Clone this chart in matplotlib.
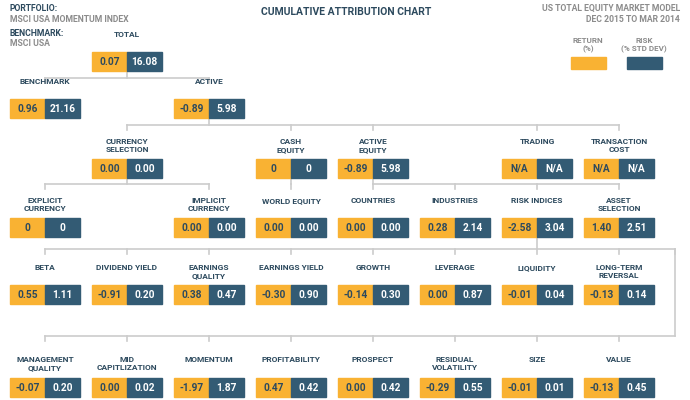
import matplotlib.pyplot as plt
from matplotlib.patches import Rectangle

plt.rcParams['font.family'] = ['Roboto', 'DejaVu Sans']

ORANGE = '#F9B233'
BLUE = '#335B74'
NAVY = '#2D4A5E'
GREY = '#8C8C8C'
LINE = '#CCCCCC'

# node data
labels = ['TOTAL', 'BENCHMARK', 'ACTIVE',
          'CURRENCY\nSELECTION', 'CASH\nEQUITY', 'ACTIVE\nEQUITY', 'TRADING', 'TRANSACTION\nCOST',
          'EXPLICIT\nCURRENCY', 'IMPLICIT\nCURRENCY', 'WORLD EQUITY', 'COUNTRIES', 'INDUSTRIES',
          'RISK INDICES', 'ASSET\nSELECTION',
          'BETA', 'DIVIDEND YIELD', 'EARNINGS\nQUALITY', 'EARNINGS YIELD', 'GROWTH', 'LEVERAGE',
          'LIQUIDITY', 'LONG-TERM\nREVERSAL',
          'MANAGEMENT\nQUALITY', 'MID\nCAPITLIZATION', 'MOMENTUM', 'PROFITABILITY', 'PROSPECT',
          'RESIDUAL\nVOLATILITY', 'SIZE', 'VALUE']
returns = ['0.07', '0.96', '-0.89',
           '0.00', '0', '-0.89', 'N/A', 'N/A',
           '0', '0.00', '0.00', '0.00', '0.28', '-2.58', '1.40',
           '0.55', '-0.91', '0.38', '-0.30', '-0.14', '0.00', '-0.01', '-0.13',
           '-0.07', '0.00', '-1.97', '0.47', '0.00', '-0.29', '-0.01', '-0.13']
risks = ['16.08', '21.16', '5.98',
         '0.00', '0', '5.98', 'N/A', 'N/A',
         '0', '0.00', '0.00', '0.00', '2.14', '3.04', '2.51',
         '1.11', '0.20', '0.47', '0.90', '0.30', '0.87', '0.04', '0.14',
         '0.20', '0.02', '1.87', '0.42', '0.42', '0.55', '0.01', '0.45']
cols = [1, 0, 2,
        1, 3, 4, 6, 7,
        0, 2, 3, 4, 5, 6, 7,
        0, 1, 2, 3, 4, 5, 6, 7,
        0, 1, 2, 3, 4, 5, 6, 7]
rows = [0, 1, 1] + [2] * 5 + [3] * 7 + [4] * 8 + [5] * 8

col_x = [45 + 82 * i for i in range(8)]
box_top = [52, 99, 159, 218, 285, 378]
box_h = 19
half = 35

fig = plt.figure(figsize=(6.9, 4.0), dpi=100)
ax = fig.add_axes([0, 0, 1, 1])
ax.set_xlim(0, 690)
ax.set_ylim(400, 0)
ax.axis('off')


def hline(x0, x1, y):
    ax.plot([x0, x1], [y, y], color=LINE, lw=1.2, zorder=1)


def vline(x, y0, y1):
    ax.plot([x, x], [y0, y1], color=LINE, lw=1.2, zorder=1)


def branch(px, pbottom, ybar, children, tick=5):
    vline(px, pbottom, ybar)
    hline(min(children + [px]), max(children + [px]), ybar)
    for c in children:
        vline(c, ybar, ybar + tick)


# connectors
branch(col_x[1], box_top[0] + box_h, 78, [col_x[0], col_x[2]])
branch(col_x[2], box_top[1] + box_h, 125, [col_x[i] for i in (1, 3, 4, 6, 7)])
branch(col_x[1], box_top[2] + box_h, 184, [col_x[0], col_x[2]])
branch(col_x[3], box_top[2] + box_h, 184, [col_x[3]])
branch(col_x[4], box_top[2] + box_h, 184, [col_x[i] for i in (4, 5, 6, 7)])
branch(col_x[6], box_top[3] + box_h, 249, col_x + [675])
vline(675, 249, 336)
hline(col_x[0], 675, 336)
for x in col_x:
    vline(x, 336, 341)

# boxes and labels
for lab, r, k, c, rw in zip(labels, returns, risks, cols, rows):
    x = col_x[c]
    y = box_top[rw]
    ax.add_patch(Rectangle((x - half, y), half, box_h, color=ORANGE, zorder=2))
    ax.add_patch(Rectangle((x, y), half, box_h, color=BLUE, zorder=2))
    ax.text(x - half / 2, y + box_h / 2 + 0.5, r, ha='center', va='center',
            fontsize=7.3, fontweight='bold', color=NAVY, zorder=3)
    ax.text(x + half / 2, y + box_h / 2 + 0.5, k, ha='center', va='center',
            fontsize=7.3, fontweight='bold', color='white', zorder=3)
    if rw == 4:
        ly = y - 21
    elif rw == 5:
        ly = y - 22
    else:
        ly = y - 21 if '\n' in lab else y - 21
    ax.text(x, ly, lab, ha='center', va='top', fontsize=6, fontweight='bold',
            color=NAVY, linespacing=1.15)

# header
ax.text(10, 4, 'PORTFOLIO:', fontsize=6.2, fontweight='bold', color=NAVY, va='top')
ax.text(10, 15, 'MSCI USA MOMENTUM INDEX', fontsize=6.2, fontweight='bold', color=GREY, va='top')
ax.text(10, 29, 'BENCHMARK:', fontsize=6.2, fontweight='bold', color=NAVY, va='top')
ax.text(10, 39, 'MSCI USA', fontsize=6.2, fontweight='bold', color=GREY, va='top')
ax.text(346, 7, 'CUMULATIVE ATTRIBUTION CHART', fontsize=7.5, fontweight='bold',
        color=NAVY, ha='center', va='top')
ax.text(680, 4, 'US TOTAL EQUITY MARKET MODEL', fontsize=6.2, fontweight='bold',
        color=GREY, ha='right', va='top')
ax.text(680, 15, 'DEC 2015 TO MAR 2014', fontsize=6.2, fontweight='bold',
        color=GREY, ha='right', va='top')

# legend
ax.text(588, 37, 'RETURN\n(%)', fontsize=5.8, fontweight='bold', color=GREY,
        ha='center', va='top', linespacing=1.15)
ax.text(644, 37, 'RISK\n(% STD DEV)', fontsize=5.8, fontweight='bold', color=GREY,
        ha='center', va='top', linespacing=1.15)
ax.add_patch(Rectangle((571, 57), 35, 12, color=ORANGE))
ax.add_patch(Rectangle((627, 57), 35, 12, color=BLUE))

fig.savefig('out.png', dpi=100)
